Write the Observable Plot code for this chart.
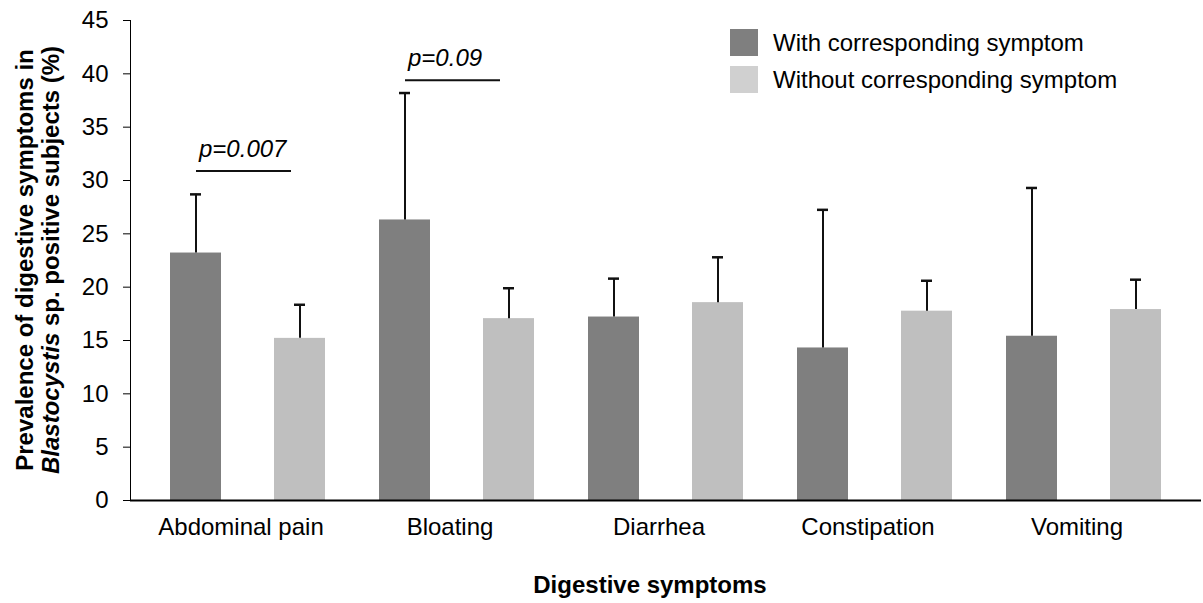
<!DOCTYPE html>
<html><head><meta charset="utf-8">
<script src="https://cdn.jsdelivr.net/npm/d3@7"></script>
<script src="https://cdn.jsdelivr.net/npm/@observablehq/plot@0.6"></script>
<style>
body{margin:0;background:#fff;font-family:"Liberation Sans",Arial,sans-serif;}
#wrap{position:relative;width:1203px;height:603px;overflow:hidden;}
.lg{position:absolute;left:730px;font-size:24px;color:#000;display:flex;align-items:center;height:27px;white-space:nowrap;}
.sw{width:28px;height:27px;margin-right:15px;flex:none;}
</style></head><body><div id="wrap"></div>
<script>
const categories = ["Abdominal pain", "Bloating", "Diarrhea", "Constipation", "Vomiting"];
const groups = ["With corresponding symptom", "Without corresponding symptom"];
const withValues = [23.2, 26.3, 17.2, 14.3, 15.4];
const withErrors = [5.5, 11.9, 3.6, 12.95, 13.9];
const withoutValues = [15.2, 17.05, 18.55, 17.75, 17.9];
const withoutErrors = [3.15, 2.85, 4.25, 2.85, 2.8];
const yTicks = [0, 5, 10, 15, 20, 25, 30, 35, 40, 45];
const pCategories = ["Abdominal pain", "Bloating"];
const pLabels = ["p=0.007", "p=0.09"];
const pLevels = [30.9, 39.4];
const barColors = ["#7f7f7f", "#bfbfbf"];
const legendColors = ["#7f7f7f", "#d0d0d0"];

const rows = [];
categories.forEach((c, i) => {
  rows.push({cat: c, group: groups[0], value: withValues[i], top: withValues[i] + withErrors[i]});
  rows.push({cat: c, group: groups[1], value: withoutValues[i], top: withoutValues[i] + withoutErrors[i]});
});
const pRows = pCategories.map((c, i) => ({cat: c, label: pLabels[i], level: pLevels[i]}));
const lastCat = [{cat: categories[categories.length - 1], y: 0}];

function build(useAxisMark) {
  const marks = [
    Plot.barY(rows, {fx: "cat", x: "group", y: "value", fill: "group"}),
    Plot.ruleX(rows, {fx: "cat", x: "group", y1: "value", y2: "top", stroke: "#111", strokeWidth: 2}),
    Plot.tickY(rows, {fx: "cat", x: "group", y: "top", stroke: "#111", strokeWidth: 2.5, insetLeft: 20, insetRight: 20}),
    Plot.ruleY(pRows, {fx: "cat", x1: () => groups[0], x2: () => groups[1], y: "level", stroke: "#111", strokeWidth: 2, insetLeft: 26, insetRight: 34}),
    Plot.text(pRows, {fx: "cat", x: () => groups[0], y: "level", text: "label", textAnchor: "start", lineAnchor: "bottom", dx: 3, dy: -14, fontStyle: "italic", fontSize: 24, fill: "#000"}),
    Plot.ruleY([0], {stroke: "#000", strokeWidth: 2}),
    Plot.ruleY(lastCat, {fx: "cat", y: "y", stroke: "#000", strokeWidth: 2, insetLeft: 209, insetRight: -26})
  ];
  if (useAxisMark) marks.push(Plot.axisFx({anchor: "bottom", tickSize: 0, tickPadding: 17, dx: 6, label: null}));
  return Plot.plot({
    width: 1203,
    height: 603,
    marginLeft: 130,
    marginRight: 2,
    marginTop: 20,
    marginBottom: 103,
    style: {fontFamily: '"Liberation Sans", Arial, sans-serif', fontSize: "24px", color: "#000", background: "#fff"},
    fx: {domain: categories, paddingInner: 0, paddingOuter: 0.0622, align: 0, axis: useAxisMark ? null : "bottom", tickSize: 0, tickPadding: 17, label: null},
    x: {domain: groups, paddingInner: 0.505, paddingOuter: 0.248, align: 0.75, axis: null},
    y: {domain: [0, 45], ticks: yTicks, tickSize: 7, tickPadding: 15, label: null, line: true},
    color: {domain: groups, range: barColors},
    marks
  });
}
let chart;
try { chart = build(true); } catch (e) { chart = build(false); }
const wrap = document.getElementById("wrap");
wrap.appendChild(chart);
const svg = d3.select(chart.tagName.toLowerCase() === "svg" ? chart : chart.querySelector("svg"));

svg.append("text").attr("transform", "translate(33,260) rotate(-90)")
  .attr("text-anchor", "middle").attr("font-weight", "bold").attr("font-size", 24).attr("fill", "#000")
  .text("Prevalence of digestive symptoms in");
const l2 = svg.append("text").attr("transform", "translate(59,260) rotate(-90)")
  .attr("text-anchor", "middle").attr("font-weight", "bold").attr("font-size", 24).attr("fill", "#000");
l2.append("tspan").attr("font-style", "italic").text("Blastocystis");
l2.append("tspan").text(" sp. positive subjects (%)");
svg.append("text").attr("x", 650).attr("y", 593).attr("text-anchor", "middle")
  .attr("font-weight", "bold").attr("font-size", 24).attr("fill", "#000").text("Digestive symptoms");

groups.forEach((g, i) => {
  const d = document.createElement("div");
  d.className = "lg";
  d.style.top = (29 + i * 37) + "px";
  const s = document.createElement("div");
  s.className = "sw";
  s.style.background = legendColors[i];
  const t = document.createElement("span");
  t.textContent = g;
  d.appendChild(s); d.appendChild(t);
  wrap.appendChild(d);
});
</script></body></html>
